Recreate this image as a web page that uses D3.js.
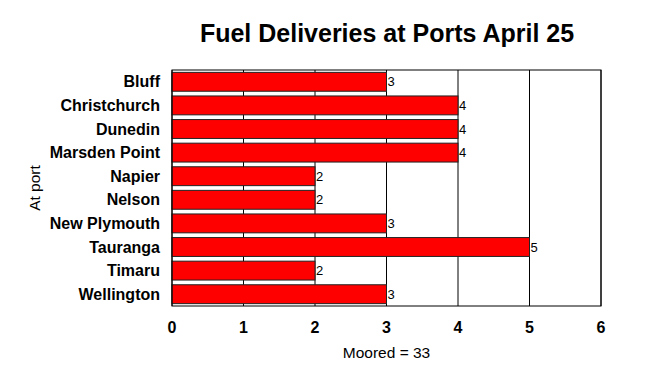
<!DOCTYPE html>
<html>
<head>
<meta charset="utf-8">
<script src="https://cdn.jsdelivr.net/npm/d3@7"></script>
<style>
  body { margin: 0; background: #fff; }
  svg { font-family: "Liberation Sans", Arial, sans-serif; }
</style>
</head>
<body>
<svg width="648" height="385"></svg>
<script>
const ports = ["Bluff", "Christchurch", "Dunedin", "Marsden Point", "Napier", "Nelson",
               "New Plymouth", "Tauranga", "Timaru", "Wellington"];
const moored = [3, 4, 4, 4, 2, 2, 3, 5, 2, 3];
const xTicks = [0, 1, 2, 3, 4, 5, 6];

const margin = {top: 70, right: 47, bottom: 79, left: 172};
const width = 648 - margin.left - margin.right;
const height = 385 - margin.top - margin.bottom;

const svg = d3.select("svg");
const g = svg.append("g")
    .attr("transform", "translate(" + margin.left + "," + margin.top + ")");

const x = d3.scaleLinear().domain([0, 6]).range([0, width]);
const y = d3.scaleBand().domain(ports).range([0, height]).paddingInner(0.2).paddingOuter(0.1);

// vertical grid lines
g.selectAll(".grid")
    .data(xTicks)
    .enter()
    .append("line")
    .attr("x1", d => x(d)).attr("x2", d => x(d))
    .attr("y1", 0).attr("y2", height)
    .attr("stroke", "black")
    .attr("stroke-width", 1);

const data = ports.map((p, i) => ({port: p, value: moored[i]}));

g.selectAll(".bar")
    .data(data)
    .enter()
    .append("rect")
    .attr("x", x(0))
    .attr("y", d => y(d.port))
    .attr("width", d => x(d.value))
    .attr("height", y.bandwidth())
    .attr("fill", "#ff0000")
    .attr("stroke", "#222")
    .attr("stroke-width", 1);

g.selectAll(".val")
    .data(data)
    .enter()
    .append("text")
    .attr("x", d => x(d.value) + 1)
    .attr("y", d => y(d.port) + y.bandwidth() / 2)
    .attr("dy", "0.35em")
    .attr("font-size", 13)
    .text(d => d.value);

// frame
g.append("rect")
    .attr("width", width).attr("height", height)
    .attr("fill", "none").attr("stroke", "black").attr("stroke-width", 1);

// x axis labels
g.selectAll(".xt")
    .data(xTicks)
    .enter()
    .append("text")
    .attr("x", d => x(d))
    .attr("y", height + 27)
    .attr("text-anchor", "middle")
    .attr("font-size", 16)
    .attr("font-weight", "bold")
    .text(d => d);

// y axis labels
g.selectAll(".yt")
    .data(ports)
    .enter()
    .append("text")
    .attr("x", -12)
    .attr("y", d => y(d) + y.bandwidth() / 2)
    .attr("dy", "0.35em")
    .attr("text-anchor", "end")
    .attr("font-size", 16)
    .attr("font-weight", "bold")
    .text(d => d);

svg.append("text")
    .attr("x", margin.left + width / 2)
    .attr("y", 358)
    .attr("text-anchor", "middle")
    .attr("font-size", 15.5)
    .text("Moored = 33");

svg.append("text")
    .attr("transform", "translate(40," + (margin.top + height / 2) + ") rotate(-90)")
    .attr("text-anchor", "middle")
    .attr("font-size", 15.5)
    .text("At port");

svg.append("text")
    .attr("x", 387)
    .attr("y", 42)
    .attr("text-anchor", "middle")
    .attr("font-size", 25)
    .attr("font-weight", "bold")
    .text("Fuel Deliveries at Ports April 25");
</script>
</body>
</html>
